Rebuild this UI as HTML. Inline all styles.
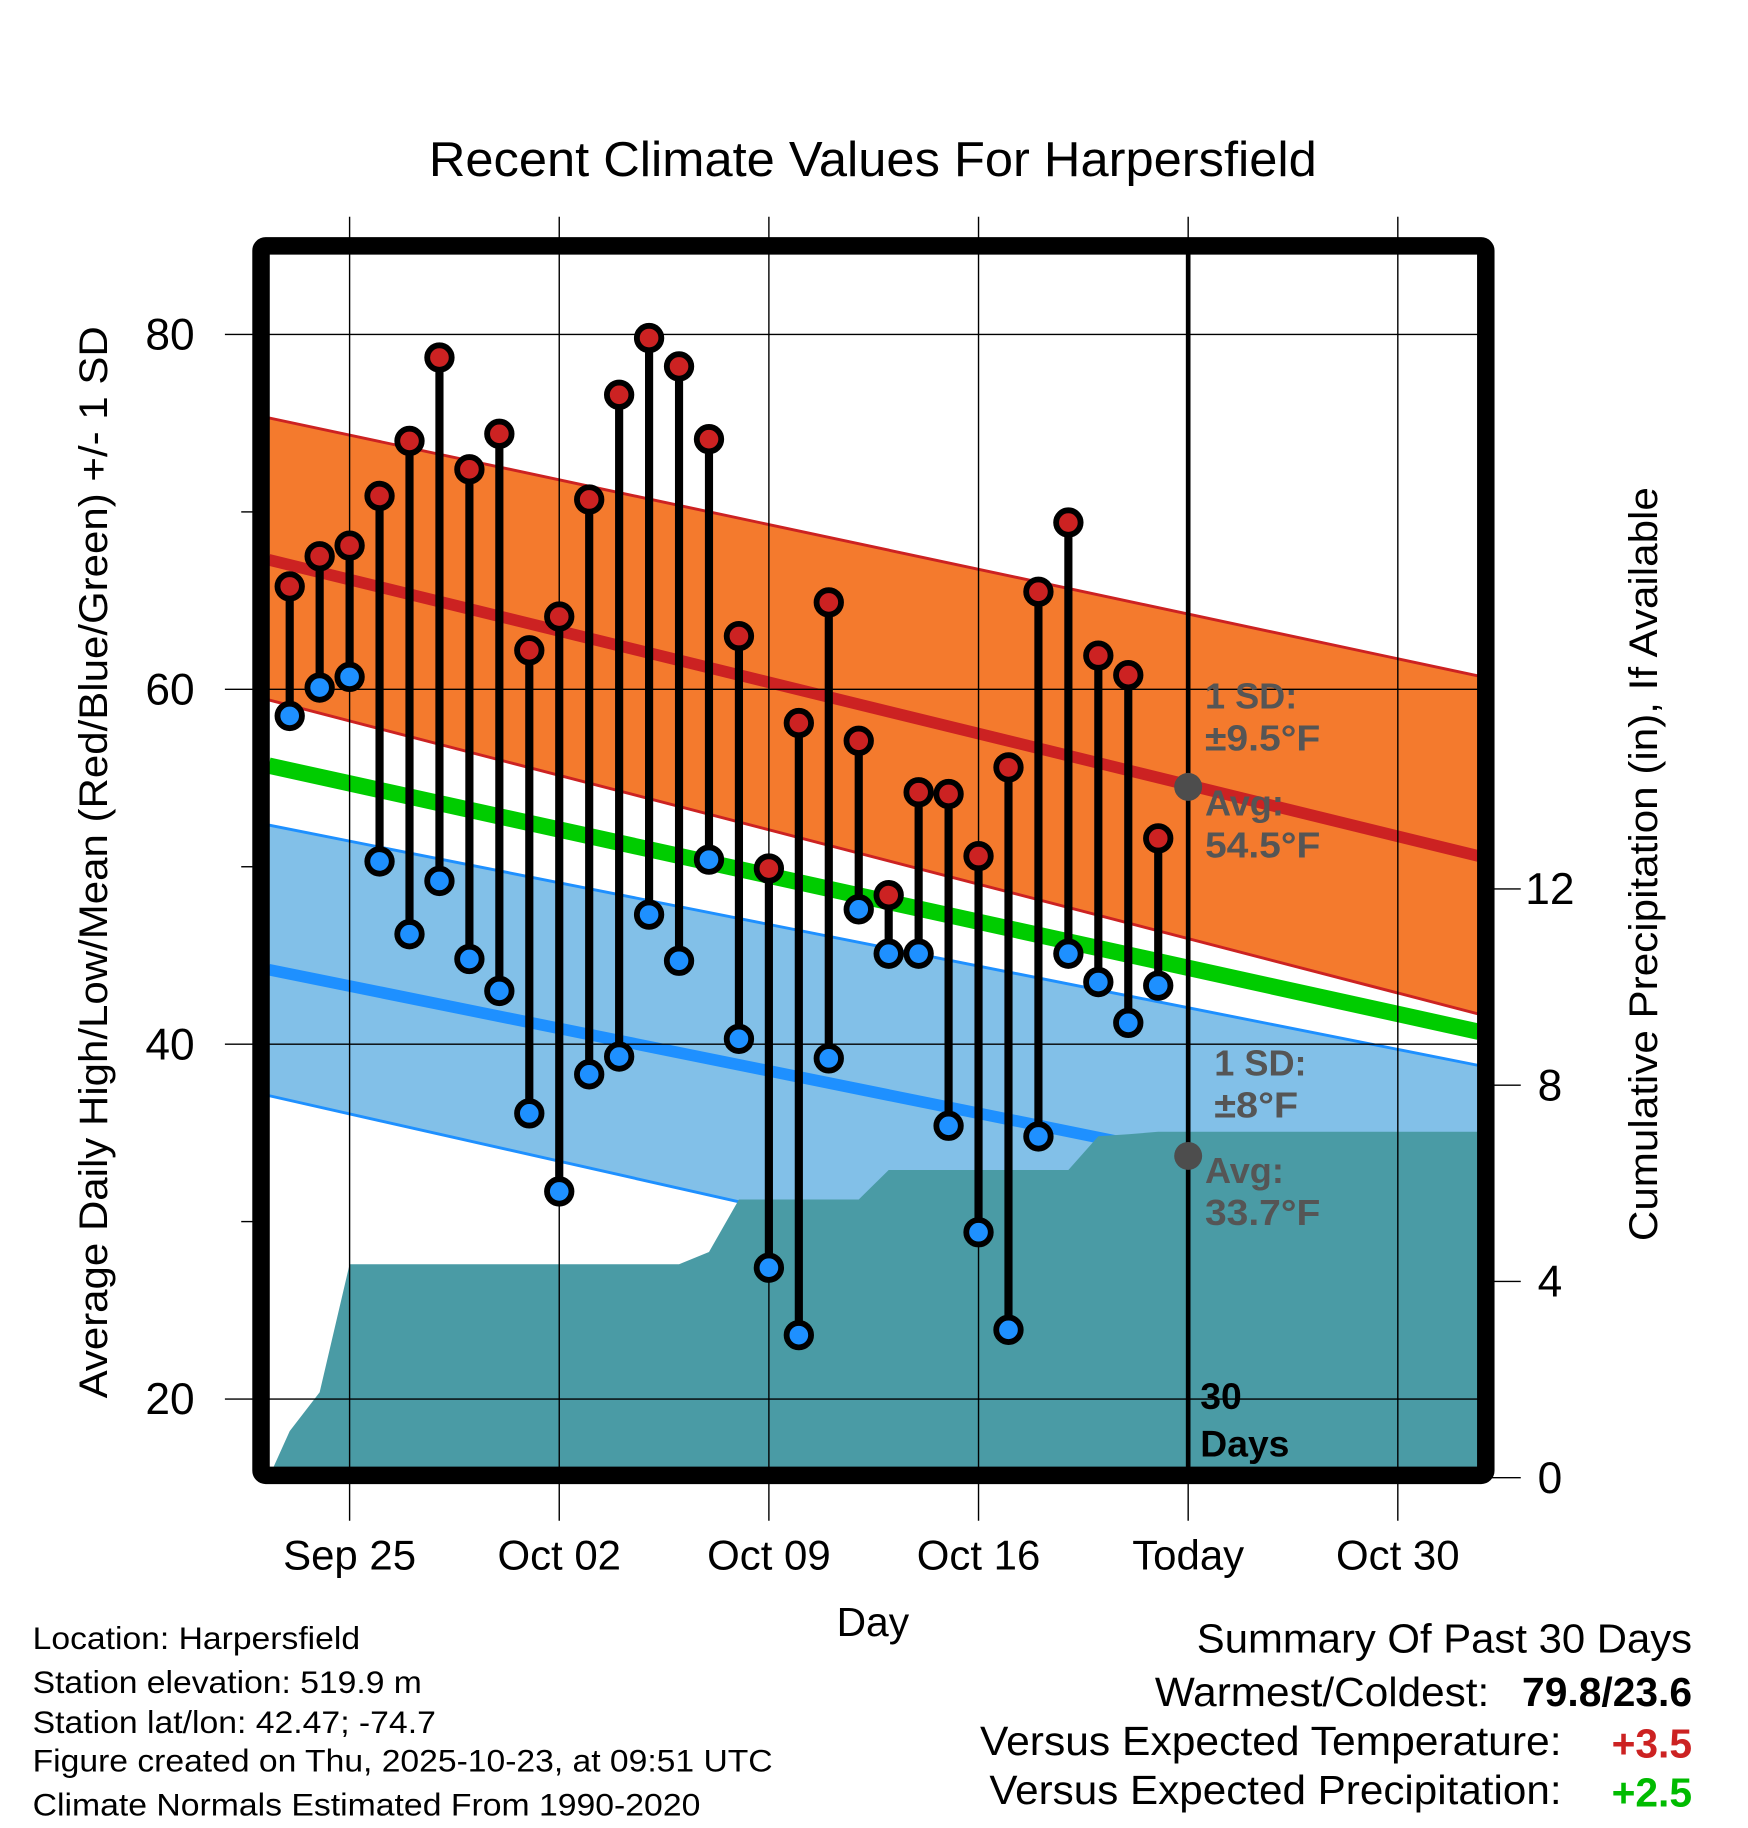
<!DOCTYPE html>
<html><head><meta charset="utf-8"><style>
html,body{margin:0;padding:0;background:#fff}
svg{display:block;font-family:"Liberation Sans",Arial,sans-serif}
</style></head><body>
<svg id="chart" width="1748" height="1828" viewBox="0 0 1500 1568.6" xmlns="http://www.w3.org/2000/svg">
<defs><clipPath id="plotclip"><rect x="231" y="215" width="1037" height="1047"/></clipPath></defs>
<g id="fills" clip-path="url(#plotclip)"></g>
<g id="grid"></g>
<g id="marks" clip-path="url(#plotclip)"></g>
<g id="frameg"></g>
<g id="texts"></g>
</svg>
<script>
// ---- data ----
const dayIdx = [-2,-1,0,1,2,3,4,5,6,7,8,9,10,11,12,13,14,15,16,17,18,19,20,21,22,23,24,25,26,27];
const highs = [65.8,67.5,68.1,70.9,74.0,78.7,72.4,74.4,62.2,64.1,70.7,76.6,79.8,78.2,74.1,63.0,49.9,58.1,64.9,57.1,48.4,54.2,54.1,50.6,55.6,65.5,69.4,61.9,60.8,51.6];
const lows = [58.5,60.1,60.7,50.3,46.2,49.2,44.8,43.0,36.1,31.7,38.3,39.3,47.3,44.7,50.4,40.3,27.4,23.6,39.2,47.6,45.1,45.1,35.4,29.4,23.9,34.8,45.1,43.5,41.2,43.3];
const precipDays = [-2.7,-2,-1,0,11,12,13,17,18,24,25,26,27,37.7];
const precipCum = [0,0.95,1.74,4.35,4.35,4.6,5.67,5.67,6.27,6.27,6.96,7.0,7.05,7.05];
const normDays = [-2.7,37.7];
const normHighUpper = [75.3,60.75];
const normHigh = [67.3,50.6];
const normHighLower = [59.4,41.7];
const normMean = [55.7,40.7];
const normLowUpper = [52.35,38.8];
const normLow = [44.2,30.4];
const normLowLower = [37.1,21.7];
const xTickDays = [0,7,14,21,28,35];
const xTickLabels = ["Sep 25","Oct 02","Oct 09","Oct 16","Today","Oct 30"];
const yTicks = [20,40,60,80];
const yMinor = [30,50,70];
const pTicks = [0,4,8,12];

// ---- axes ----
const X = d => 300 + d*25.7;
const Y = v => 287 + (80-v)*15.225;
const P = p => 1268 - p*42.1;
const NS = "http://www.w3.org/2000/svg";
function mk(tag, attrs, parent){const e=document.createElementNS(NS,tag);for(const k in attrs)e.setAttribute(k,attrs[k]);parent.appendChild(e);return e;}
const fills=document.getElementById('fills'),grid=document.getElementById('grid'),marks=document.getElementById('marks'),frameg=document.getElementById('frameg'),texts=document.getElementById('texts');

function band(up,lo,fill,name){
  const pts=normDays.map((d,i)=>X(d)+','+Y(up[i])).concat(normDays.map((d,i)=>X(d)+','+Y(lo[i])).reverse());
  const e=mk('polygon',{points:pts.join(' '),fill:fill},fills);
  
  
}
function line(arr,color,w,name){
  const e=mk('line',{x1:X(normDays[0]),y1:Y(arr[0]),x2:X(normDays[1]),y2:Y(arr[1]),stroke:color,'stroke-width':w},fills);
  
  
}
band(normHighUpper,normHighLower,'#f47a2d','high-sd-band');
line(normHighUpper,'#cc2222',2.5,'high-sd-upper');
line(normHighLower,'#cc2222',2.5,'high-sd-lower');
band(normLowUpper,normLowLower,'#82c0e8','low-sd-band');
line(normLowUpper,'#1e90ff',2.5,'low-sd-upper');
line(normLowLower,'#1e90ff',2.5,'low-sd-lower');
line(normHigh,'#cc2222',10,'normal-high-line');
line(normMean,'#00cc00',14,'normal-mean-line');
line(normLow,'#1e90ff',10,'normal-low-line');
{
  const pts=precipDays.map((d,i)=>X(d)+','+P(precipCum[i]));
  pts.push(X(37.7)+','+P(0)); pts.push(X(-2.7)+','+P(0));
  const e=mk('polygon',{points:pts.join(' '),fill:'#4a9ba5'},fills);
  
  
}
// grid
xTickDays.forEach((d,i)=>{
  const e=mk('line',{x1:X(d),y1:186,x2:X(d),y2:1305,stroke:'#000','stroke-width':1.2},grid);
  
  
  const t=mk('text',{x:X(d),y:1347,'font-size':36,'text-anchor':'middle'},texts);
  t.textContent=xTickLabels[i];
  
  
});
yTicks.forEach(v=>{
  const e=mk('line',{x1:193,y1:Y(v),x2:1268,y2:Y(v),stroke:'#000','stroke-width':1.2},grid);
  
  
  const t=mk('text',{x:167,y:Y(v)+13,'font-size':38,'text-anchor':'end'},texts);
  t.textContent=v;
  
  
});
yMinor.forEach(v=>{
  const e=mk('line',{x1:207,y1:Y(v),x2:220,y2:Y(v),stroke:'#000','stroke-width':1.2},grid);
  
  
});
pTicks.forEach(p=>{
  const e=mk('line',{x1:1280,y1:P(p),x2:1305,y2:P(p),stroke:'#000','stroke-width':1.2},grid);
  
  
  const t=mk('text',{x:1330,y:P(p)+13,'font-size':38,'text-anchor':'middle'},texts);
  t.textContent=p;
  
  
});
// today line
{
  const e=mk('line',{x1:X(28),y1:215,x2:X(28),y2:1262,stroke:'#000','stroke-width':4},marks);
  
  
  const a=mk('circle',{cx:X(28),cy:Y(54.5),r:12,fill:'#4d4d4d'},marks);
  
  
  const b=mk('circle',{cx:X(28),cy:Y(33.7),r:12,fill:'#4d4d4d'},marks);
  
  
}
// stems and markers
dayIdx.forEach((d,i)=>{
  const s=mk('line',{x1:X(d),y1:Y(highs[i]),x2:X(d),y2:Y(lows[i]),stroke:'#000','stroke-width':7},marks);
  
  
});
dayIdx.forEach((d,i)=>{
  const h=mk('circle',{cx:X(d),cy:Y(highs[i]),r:10.5,fill:'#cc2222',stroke:'#000','stroke-width':5},marks);
  
  
  const l=mk('circle',{cx:X(d),cy:Y(lows[i]),r:10.5,fill:'#1e90ff',stroke:'#000','stroke-width':5},marks);
  
  
});
{
  const f=mk('rect',{x:224,y:211,width:1051,height:1055,fill:'none',stroke:'#000','stroke-width':15,rx:4},frameg);
  
  
}
</script>
<svg style="position:absolute;left:0;top:0" width="1748" height="1828" viewBox="0 0 1500 1568.6" xmlns="http://www.w3.org/2000/svg" font-family="Liberation Sans, Arial, sans-serif">
<text x="368" y="151" font-size="42" textLength="762" lengthAdjust="spacingAndGlyphs">Recent Climate Values For Harpersfield</text>
<text transform="translate(92,1200) rotate(-90)" font-size="34" textLength="920" lengthAdjust="spacingAndGlyphs">Average Daily High/Low/Mean (Red/Blue/Green) +/- 1 SD</text>
<text transform="translate(1422,1065) rotate(-90)" font-size="34" textLength="647" lengthAdjust="spacingAndGlyphs">Cumulative Precipitation (in), If Available</text>
<text x="749" y="1404" font-size="35" text-anchor="middle">Day</text>
<g font-weight="bold" font-size="31" fill="#555">
<text x="1034" y="608">1 SD:<tspan x="1034" y="644" textLength="99" lengthAdjust="spacingAndGlyphs">±9.5°F</tspan></text>
<text x="1034" y="700">Avg:<tspan x="1034" y="736" textLength="99" lengthAdjust="spacingAndGlyphs">54.5°F</tspan></text>
<text x="1042" y="923">1 SD:<tspan x="1042" y="959" textLength="72" lengthAdjust="spacingAndGlyphs">±8°F</tspan></text>
<text x="1034" y="1015">Avg:<tspan x="1034" y="1051" textLength="99" lengthAdjust="spacingAndGlyphs">33.7°F</tspan></text>
</g>
<text x="1030" y="1209" font-weight="bold" font-size="32">30<tspan x="1030" y="1250">Days</tspan></text>
<g font-size="27">
<text x="28" y="1415" textLength="281" lengthAdjust="spacingAndGlyphs">Location: Harpersfield</text>
<text x="28" y="1453" textLength="334" lengthAdjust="spacingAndGlyphs">Station elevation: 519.9 m</text>
<text x="28" y="1487" textLength="346" lengthAdjust="spacingAndGlyphs">Station lat/lon: 42.47; -74.7</text>
<text x="28" y="1520" textLength="635" lengthAdjust="spacingAndGlyphs">Figure created on Thu, 2025-10-23, at 09:51 UTC</text>
<text x="28" y="1558" textLength="573" lengthAdjust="spacingAndGlyphs">Climate Normals Estimated From 1990-2020</text>
</g>
<g font-size="35">
<text x="1027" y="1418" textLength="425" lengthAdjust="spacingAndGlyphs">Summary Of Past 30 Days</text>
<text x="991" y="1464" textLength="287" lengthAdjust="spacingAndGlyphs">Warmest/Coldest:</text>
<text x="1452" y="1464" text-anchor="end" font-weight="bold">79.8/23.6</text>
<text x="841" y="1506" textLength="499" lengthAdjust="spacingAndGlyphs">Versus Expected Temperature:</text>
<text x="1452" y="1508" text-anchor="end" font-weight="bold" fill="#cc2222">+3.5</text>
<text x="849" y="1548" textLength="491" lengthAdjust="spacingAndGlyphs">Versus Expected Precipitation:</text>
<text x="1452" y="1550" text-anchor="end" font-weight="bold" fill="#00bb00">+2.5</text>
</g>
</svg>
</body></html>
